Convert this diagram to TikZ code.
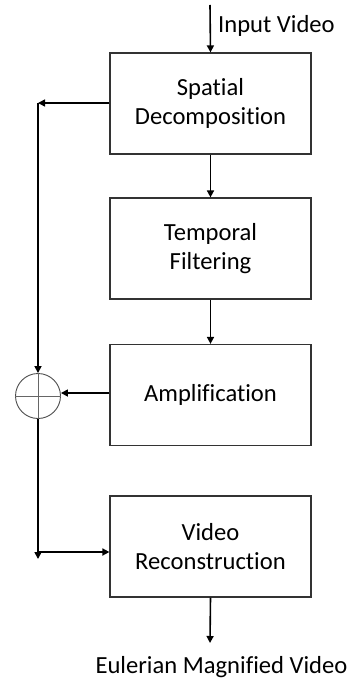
\documentclass[tikz,border=0pt]{standalone}
\usepackage{fontspec}
\setmainfont[Ligatures=NoCommon]{Carlito}
\usetikzlibrary{arrows.meta}
\begin{document}
\begin{tikzpicture}[x=1pt,y=-1pt,
  box/.style={draw=black!80, line width=1.2pt, minimum width=201pt, minimum height=101pt,
    align=center, inner sep=0pt, font=\fontsize{24.6}{29}\selectfont},
  lbl/.style={font=\fontsize{24.6}{29}\selectfont, inner sep=0pt},
  arr/.style={line width=1.6pt, -{Triangle[length=7pt,width=7pt]}},
  sumc/.style={circle, draw=black!70, line width=0.9pt, minimum size=45pt, inner sep=0pt},
  cross/.style={draw=black!60, line width=0.9pt}]
\useasboundingbox (0,0) rectangle (351,679);
\node[box] (sd) at (210.5,103.5) {Spatial\\Decomposition};
\node[box] (tf) at (210.5,248.5) {Temporal\\Filtering};
\node[box] (am) at (210.5,395) {Amplification};
\node[box] (vr) at (210.5,546.5) {Video\\Reconstruction};
\node[sumc] (sum) at (38,396) {};
\draw[cross] (sum.north) -- (sum.south) (sum.west) -- (sum.east);
\coordinate (in) at (210,5);
\coordinate (out) at (210,643);
\coordinate (c1) at (38,103);
\coordinate (c2) at (38,559);
\coordinate (c3) at (38,552);
\node[lbl, anchor=base west] (inl) at (218,33) {Input Video};
\node[lbl, anchor=base] (outl) at (221.5,673) {Eulerian Magnified Video};
\draw[arr] (in) -- (sd.north);
\draw[arr] (sd.south) -- (tf.north);
\draw[arr] (tf.south) -- (am.north);
\draw[arr] (vr.south) -- (out);
\draw[arr] (sd.west |- c1) -- (c1);
\draw[arr] (c1) -- (sum.north);
\draw[arr] (am.west |- 0,393) -- (sum.east |- 0,393);
\draw[arr] (sum.south) -- (c2);
\draw[arr] (c3) -- (vr.west |- c3);
\end{tikzpicture}
\end{document}
